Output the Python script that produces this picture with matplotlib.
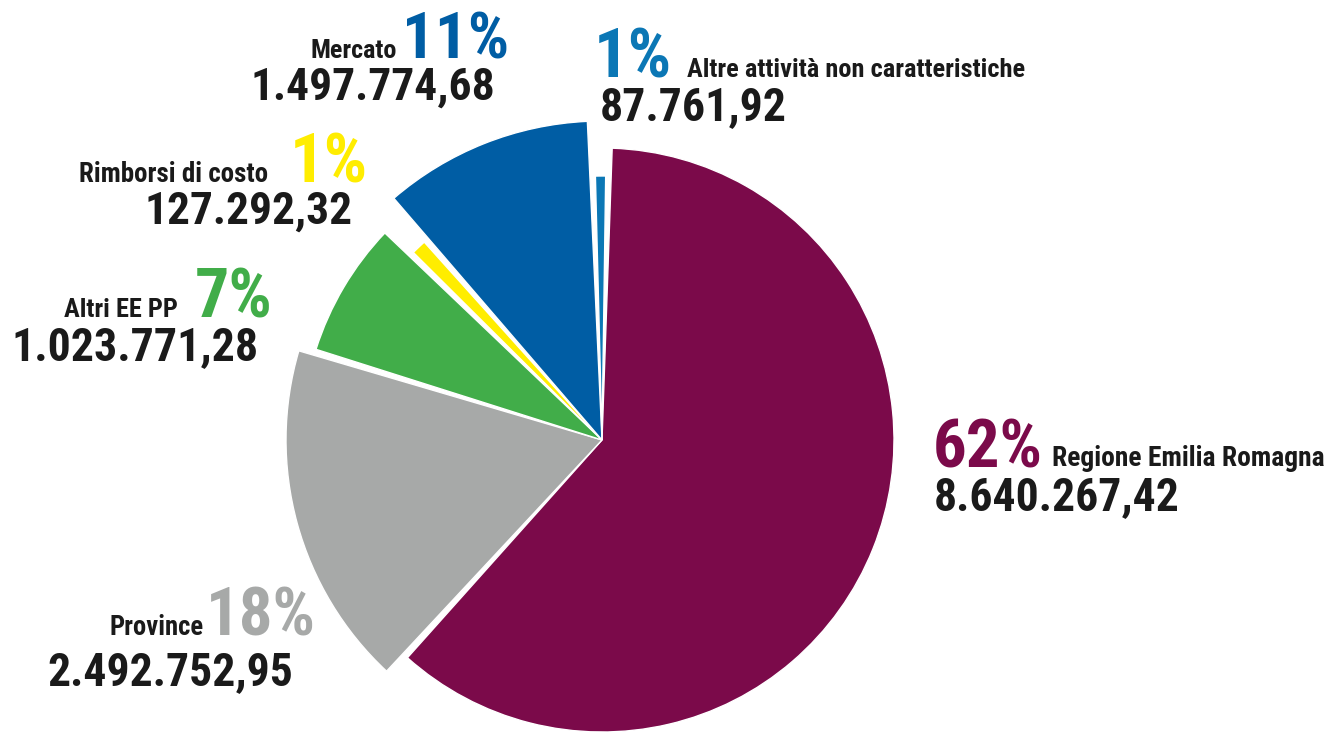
import matplotlib
matplotlib.use("Agg")
import matplotlib.pyplot as plt
from matplotlib.patches import Wedge
from matplotlib import font_manager
import numpy as np

# data
labels = ["Regione Emilia Romagna", "Province", "Altri EE PP",
          "Rimborsi di costo", "Mercato", "Altre attività non caratteristiche"]
values = [8640267.42, 2492752.95, 1023771.28, 127292.32, 1497774.68, 87761.92]

# styling
colors = ["#7B0A4A", "#A7A9A8", "#41AD49", "#FFED00", "#005DA4", "#0B77B5"]
radii = [292, 316, 300, 266, 319, 264]   # each slice has its own radius (px)
W, H = 1329, 735
center = (602, 440)                      # image coords (y down)
start_angle = 88
gap = 1.2                                # white angular gap between slices (deg)

# text anchors (image coords, baselines) and target widths in px
layout = [
    # (label_x, label_ha, label_base, label_w, pct_x, pct_ha, pct_base, pct_w, num_x, num_ha, num_base, num_w)
    (1052, "left", 466, 273, 933, "left", 467, 110, 934, "left", 510, 246),
    (204, "right", 635, 94, 316, "right", 635, 110, 293, "right", 685, 246),
    (178, "right", 317, 114, 273, "right", 317, 78, 259, "right", 360, 247),
    (268, "right", 182, 189, 368, "right", 182, 78, 353, "right", 224, 208),
    (397, "right", 58, 87, 509, "right", 58, 107, 495, "right", 100, 245),
    (687, "left", 77, 338, 594, "left", 77, 78, 600, "left", 120, 187),
]

# pick a condensed bold font if there is one
names = {f.name for f in font_manager.fontManager.ttflist}
family = "DejaVu Sans"
for cand in ["Liberation Sans Narrow", "Roboto Condensed", "Open Sans Condensed",
             "Roboto", "Liberation Sans"]:
    if cand in names:
        family = cand
        break
font = dict(family=family, weight="bold")


def it_number(v):
    # 8640267.42 -> 8.640.267,42
    s = f"{v:,.2f}"
    return s.replace(",", "X").replace(".", ",").replace("X", ".")


fig = plt.figure(figsize=(W / 100, H / 100), dpi=100)
ax = fig.add_axes([0, 0, 1, 1])
ax.set_xlim(0, W)
ax.set_ylim(0, H)
ax.set_aspect("equal")
ax.axis("off")

cx, cy = center[0], H - center[1]
total = sum(values)
fractions = np.array(values) / total
# slices go clockwise from the top, with a small gap after each one
spans = fractions * (360 - gap * len(values))
theta = start_angle
for span, r, c in zip(spans, radii, colors):
    ax.add_patch(Wedge((cx, cy), r, theta - span, theta, facecolor=c,
                       edgecolor="white", linewidth=1.0))
    theta -= span + gap

texts = []  # (text, target width)
for lab, v, frac, c, lay in zip(labels, values, fractions, colors, layout):
    lx, lha, lb, lw, px, pha, pb, pw, nx, nha, nb, nw = lay
    t = ax.text(lx, H - lb, lab, ha=lha, va="baseline", fontsize=18,
                color="#1a1a1a", **font)
    texts.append((t, lw))
    t = ax.text(px, H - pb, f"{round(frac * 100)}%", ha=pha, va="baseline",
                fontsize=46, color=c, **font)
    texts.append((t, pw))
    t = ax.text(nx, H - nb, it_number(v), ha=nha, va="baseline", fontsize=34,
                color="#1a1a1a", **font)
    texts.append((t, nw))

# size each text so its width matches the reference
renderer = fig.canvas.get_renderer()
for t, target in texts:
    w = t.get_window_extent(renderer).width
    t.set_fontsize(t.get_fontsize() * target / w)

fig.savefig("out.png", dpi=100)
